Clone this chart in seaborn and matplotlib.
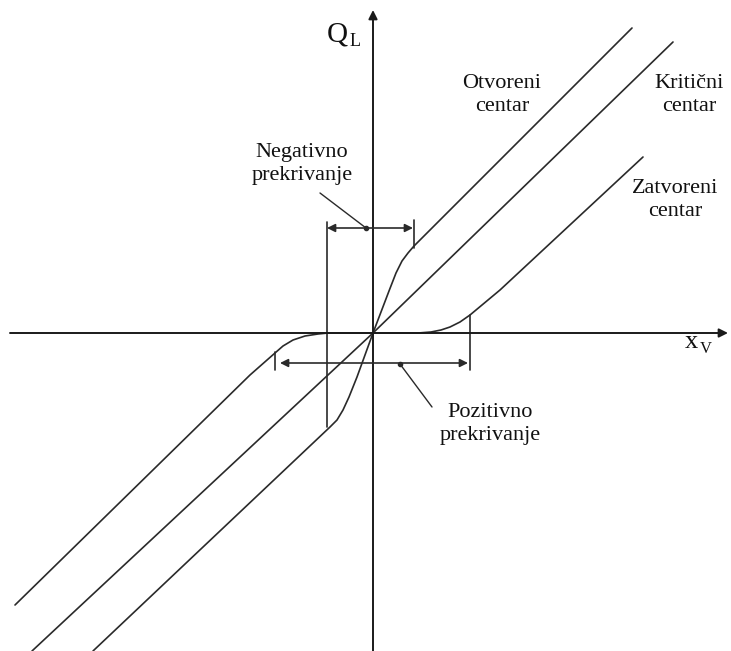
import numpy as np
import pandas as pd
import matplotlib
matplotlib.use("Agg")
import matplotlib.pyplot as plt
import seaborn as sns

# Spool valve flow characteristics Q_L(x_V): open, critical and closed centre
crit_x = [-341, 0, 300]
crit_y = [-318, 0, 291]

open_x = [-280, -43, -36, -30, -24, -16, -8, 0, 8, 16, 23, 29, 35, 41, 259]
open_y = [-318, -94, -87, -77, -64, -44, -22, 0, 21, 42, 60, 72, 80, 87, 305]

closed_x = [-358, -123, -98, -90, -80, -68, -55, -45, 45, 58, 68, 77, 87, 97, 127, 270]
closed_y = [-272, -42, -20, -13, -7, -3, -1, 0, 0, 1, 3, 6, 11, 18, 43, 176]

curve_names = ["Kritični centar", "Otvoreni centar", "Zatvoreni centar"]

# overlap / underlap extents
neg_lap = [-43, 41]
pos_lap = [-98, 97]

sns.set_theme(style="white")
plt.rcParams["font.family"] = ["Liberation Serif", "DejaVu Serif"]

frames = []
for name, xs, ys in zip(curve_names,
                        [crit_x, open_x, closed_x],
                        [crit_y, open_y, closed_y]):
    frames.append(pd.DataFrame({"x": xs, "y": ys, "curve": name,
                                "order": range(len(xs))}))
df = pd.concat(frames, ignore_index=True)

fig = plt.figure(figsize=(7.31, 6.51), dpi=100)
ax = fig.add_axes([0, 0, 1, 1])
ax.set_xlim(-373, 358)
ax.set_ylim(-318, 333)
ax.axis("off")

line_col = "#2a2a2a"
for name in curve_names:
    sub = df[df["curve"] == name].sort_values("order")
    sns.lineplot(data=sub, x="x", y="y", sort=False, estimator=None,
                 color=line_col, lw=1.2, ax=ax, legend=False)

# coordinate axes with arrowheads
axis_kw = dict(arrowstyle="-|>", color="#1a1a1a", lw=1.4,
               mutation_scale=13, shrinkA=0, shrinkB=0)
ax.annotate("", xy=(355, 0), xytext=(-363, 0), arrowprops=axis_kw)
ax.annotate("", xy=(0, 323), xytext=(0, -318), arrowprops=axis_kw)

# negative overlap dimension
ax.plot([-46, -46], [111, -94], color=line_col, lw=1.2)
ax.plot([41, 41], [113, 85], color=line_col, lw=1.2)
dim_kw = dict(arrowstyle="<|-|>", color=line_col, lw=1.2,
              mutation_scale=12, shrinkA=0, shrinkB=0)
ax.annotate("", xy=(neg_lap[1] - 1, 105), xytext=(neg_lap[0] - 3, 105),
            arrowprops=dim_kw)
ax.plot([-53, -7], [140, 105], color=line_col, lw=1.0)
ax.plot([-7], [105], "o", color=line_col, ms=3)

# positive overlap dimension
ax.plot([pos_lap[0], pos_lap[0]], [-19, -37], color=line_col, lw=1.2)
ax.plot([pos_lap[1], pos_lap[1]], [18, -37], color=line_col, lw=1.2)
ax.annotate("", xy=(pos_lap[1] - 2, -30), xytext=(pos_lap[0] + 5, -30),
            arrowprops=dim_kw)
ax.plot([27, 59], [-31, -74], color=line_col, lw=1.0)
ax.plot([27], [-31], "o", color=line_col, ms=3)

# labels
txt_kw = dict(fontsize=16, color="#111111", ha="center", va="center",
              linespacing=1.25)
ax.text(-71, 169, "Negativno\nprekrivanje", **txt_kw)
ax.text(117, -91, "Pozitivno\nprekrivanje", **txt_kw)
ax.text(129, 238, "Otvoreni\ncentar", **txt_kw)
ax.text(316, 238, "Kritični\ncentar", **txt_kw)
ax.text(302, 133, "Zatvoreni\ncentar", **txt_kw)

ax.text(-36, 291, "Q", fontsize=21, color="#111111", ha="center", va="baseline")
ax.text(-23, 287, "L", fontsize=13, color="#111111", ha="left", va="baseline")
ax.text(318, -15, "x", fontsize=19, color="#111111", ha="center", va="baseline")
ax.text(327, -20, "V", fontsize=12, color="#111111", ha="left", va="baseline")

fig.savefig("out.png", dpi=100)
